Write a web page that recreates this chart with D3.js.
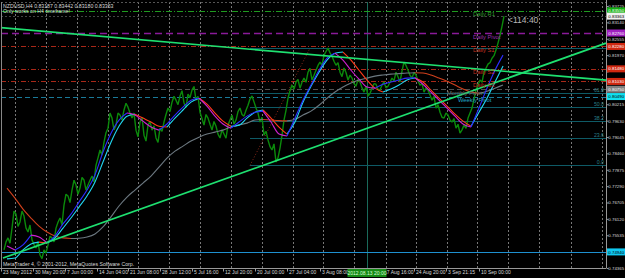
<!DOCTYPE html>
<html><head><meta charset="utf-8">
<script src="https://cdn.jsdelivr.net/npm/d3@7"></script>
<style>html,body{margin:0;padding:0;background:#000;overflow:hidden}svg{display:block}</style>
</head><body><svg id="c" width="625" height="278"></svg>
<script>
// ---------- data ----------
const symbolTitle = "NZDUSD,H4";
const ohlc = [0.83187, 0.83442, 0.83180, 0.83363];
const subTitle = "Only works on H4 timeframe!";
const copyright = "MetaTrader 4, \u00A9 2001-2012, MetaQuotes Software Corp.";
const countdown = "<114:40";

const priceStartBar = 3, priceStep = 2;
const closes = [
0.7501,0.7530,0.7544,0.7525,0.7579,0.7640,0.7629,0.7585,0.7601,0.7640,0.7622,0.7580,0.7565,0.7590,0.7537,0.7520,0.7508,0.7530,0.7483,0.7470,
0.7501,0.7490,0.7519,0.7550,0.7544,0.7530,0.7579,0.7600,0.7615,0.7590,0.7661,0.7700,0.7694,0.7670,0.7715,0.7750,0.7733,0.7700,0.7722,0.7760,
0.7751,0.7715,0.7733,0.7750,0.7765,0.7745,0.7804,0.7830,0.7858,0.7840,0.7886,0.7920,0.7936,0.7990,0.7972,0.7930,0.7947,0.7990,0.7983,0.7965,
0.8001,0.8025,0.8011,0.7990,0.7972,0.7990,0.7929,0.7905,0.7958,0.7975,0.7911,0.7890,0.7947,0.7960,0.7929,0.7945,0.7901,0.7885,0.7936,0.7925,
0.7958,0.7985,0.8008,0.7995,0.8029,0.8050,0.8036,0.8020,0.8051,0.8070,0.8026,0.8010,0.8058,0.8045,0.8072,0.8085,0.8036,0.8050,0.7993,0.7970,
0.7947,0.7985,0.7972,0.7950,0.7929,0.7960,0.7943,0.7915,0.7901,0.7930,0.7915,0.7900,0.7947,0.7965,0.7983,0.7950,0.7965,0.7995,0.8008,0.7985,
0.7979,0.8000,0.8018,0.8040,0.8051,0.8030,0.8008,0.7990,0.7958,0.7975,0.7911,0.7925,0.7894,0.7870,0.7858,0.7880,0.7815,0.7830,0.7865,0.7910,
0.7965,0.8000,0.8043,0.8070,0.8090,0.8075,0.8101,0.8110,0.8079,0.8100,0.8115,0.8100,0.8136,0.8150,0.8108,0.8125,0.8143,0.8160,0.8172,0.8160,
0.8197,0.8210,0.8222,0.8205,0.8193,0.8175,0.8161,0.8170,0.8136,0.8120,0.8151,0.8135,0.8108,0.8125,0.8115,0.8095,0.8086,0.8110,0.8101,0.8080,
0.8065,0.8085,0.8051,0.8060,0.8079,0.8095,0.8093,0.8075,0.8072,0.8090,0.8101,0.8080,0.8086,0.8100,0.8115,0.8105,0.8136,0.8120,0.8101,0.8140,
0.8172,0.8160,0.8143,0.8125,0.8115,0.8135,0.8126,0.8105,0.8090,0.8095,0.8065,0.8080,0.8072,0.8055,0.8036,0.8050,0.8008,0.8020,0.7993,0.7975,
0.7972,0.7990,0.7983,0.7965,0.7958,0.7970,0.7936,0.7950,0.7918,0.7930,0.7947,0.7935,0.7972,0.7990,0.8008,0.8040,0.8072,0.8090,0.8108,0.8100,
0.8136,0.8150,0.8165,0.8170,0.8186,0.8195,0.8215,0.8240,0.8268,0.8300,0.8336];

const maStartBar = 6, maStep = 8;
const maFast = [
0.7515,0.7501,0.7519,0.7554,0.7547,0.7526,0.7551,0.7594,0.7629,0.7672,
0.7715,0.7769,0.7851,0.7918,0.7965,0.7990,0.7983,0.7961,0.7940,0.7929,
0.7951,0.7983,0.8011,0.8036,0.8043,0.8015,0.7979,0.7951,0.7936,0.7958,
0.7979,0.7993,0.7997,0.7958,0.7915,0.7908,0.7972,0.8036,0.8090,0.8143,
0.8186,0.8204,0.8179,0.8143,0.8111,0.8083,0.8079,0.8093,0.8101,0.8108,
0.8115,0.8116,0.8093,0.8065,0.8036,0.8008,0.7979,0.7951,0.7940,0.8008,
0.8079,0.8143,0.8197];
const maMid = [
0.7469,0.7472,0.7501,0.7522,0.7529,0.7526,0.7544,0.7579,0.7615,0.7654,
0.7694,0.7744,0.7815,0.7886,0.7943,0.7979,0.7986,0.7972,0.7958,0.7943,
0.7940,0.7972,0.8001,0.8029,0.8043,0.8022,0.7990,0.7961,0.7943,0.7947,
0.7972,0.7993,0.8001,0.7972,0.7940,0.7915,0.7958,0.8029,0.8086,0.8136,
0.8179,0.8204,0.8208,0.8179,0.8143,0.8108,0.8079,0.8065,0.8076,0.8090,
0.8108,0.8115,0.8101,0.8072,0.8043,0.8015,0.7986,0.7961,0.7943,0.7993,
0.8043,0.8101,0.8158];
const maSlow = [
0.7722,0.7686,0.7647,0.7615,0.7586,0.7565,0.7551,0.7544,0.7542,0.7543,
0.7547,0.7558,0.7583,0.7619,0.7658,0.7690,0.7715,0.7740,0.7765,0.7797,
0.7829,0.7854,0.7872,0.7890,0.7904,0.7915,0.7922,0.7929,0.7940,0.7947,
0.7954,0.7965,0.7967,0.7965,0.7963,0.7962,0.7968,0.7983,0.7997,0.8018,
0.8043,0.8065,0.8083,0.8097,0.8108,0.8115,0.8122,0.8126,0.8129,0.8131,
0.8133,0.8134,0.8133,0.8126,0.8115,0.8104,0.8090,0.8076,0.8065,0.8061,
0.8068,0.8079,0.8090];

const priceTicks = [0.74365,0.74950,0.75535,0.76120,0.76705,0.77290,0.77875,0.78460,0.79045,
  0.79630,0.80215,0.80800,0.81385,0.81970,0.82555,0.83140,0.83725];

const timeLabels = ["23 May 2012","30 May 20:00","7 Jun 00:00","14 Jun 04:00","21 Jun 08:00",
  "28 Jun 12:00","5 Jul 16:00","12 Jul 20:00","20 Jul 00:00","27 Jul 04:00","3 Aug 08:00",
  "17 Aug 16:00","24 Aug 20:00","3 Sep 21:15","10 Sep 00:00"];
const timeLabelBars = [0,32,64,96,127,159,191,222,254,286,319,381,413,445,478];
const gridBars = [14,45,76,107,137,168,199,230,261,292,322,353,385,415,446,476,507,538,570,601];

const levelNames  = ["Daily R1","Daily Pivot","Daily S1","Daily S2","Daily S3","Monthly Pivot","Weekly Pivot"];
const levelValues = [0.8355, 0.8276, 0.8228, 0.8148, 0.8103, 0.8075, 0.8049];
const lowerLevel = 0.7494;

const fibLevels = [0, 23.6, 38.2, 50, 61.8, 100];
const fibLow = 0.7803, fibHigh = 0.8222, fibStartBar = 249, fibEndBar = 309;

const trendDownBars = [0, 605], trendDownValues = [0.8295, 0.8108];
const trendUpBars = [2, 605], trendUpValues = [0.7472, 0.8240];

const vlineBar = 366, vlineLabel = "2012.08.13 20:00";

// ---------- drawing ----------
const svg = d3.select("#c");
const W = 625, H = 278, RX = 606, BY = 268, TY = 2;
svg.append("rect").attr("width", W).attr("height", H).attr("fill", "#000");

const x = d3.scaleLinear().domain([0, 605]).range([1, RX]);
const y = d3.scaleLinear().domain([0.74365, 0.83725]).range([BY, 6]);
const FONT = "Liberation Sans, Arial, sans-serif";
const AXF = 4.4;

const plot = svg.append("g");
// grid
plot.selectAll(".vg").data(gridBars).join("line")
  .attr("x1", d => x(d) + 0.5).attr("x2", d => x(d) + 0.5)
  .attr("y1", TY).attr("y2", BY)
  .attr("stroke", "#777").attr("stroke-width", 1).attr("stroke-dasharray", "2,2");
plot.append("line").attr("x1", 1).attr("x2", RX).attr("y1", TY + 0.5).attr("y2", TY + 0.5)
  .attr("stroke", "#555").attr("stroke-dasharray", "2,2");

// vertical line
plot.append("line").attr("x1", x(vlineBar) + 0.5).attr("x2", x(vlineBar) + 0.5)
  .attr("y1", TY).attr("y2", BY).attr("stroke", "#1a6a5a").attr("stroke-width", 1);

// levels
const levelStyle = {
  "Daily R1":     {c: "#1f9a1f", dash: "6,2,1,2", t: "#2e9a2e", box: "#10b010", bt: "#fff"},
  "Daily Pivot":  {c: "#8a1a9a", dash: "7,4",     t: "#9a30b0", box: "#a020c0", bt: "#fff"},
  "Daily S1":     {c: "#a82818", dash: "5,2,1,2", t: "#c03020", box: "#d02810", bt: "#fff"},
  "Daily S2":     {c: "#a82818", dash: "5,2,1,2", t: "#c03020", box: "#d02810", bt: "#fff"},
  "Daily S3":     {c: "#a82818", dash: "5,2,1,2", t: "#c03020", box: "#d02810", bt: "#fff"},
  "Monthly Pivot":{c: "#505050", dash: "5,3",     t: "#707070", box: "#808080", bt: "#fff"},
  "Weekly Pivot": {c: "#1a7a9a", dash: "5,3",     t: "#20a8c8", box: "#10e0f0", bt: "#000"}
};
levelNames.forEach((n, i) => {
  const s = levelStyle[n], yy = Math.round(y(levelValues[i])) + 0.5;
  plot.append("line").attr("x1", 1).attr("x2", RX).attr("y1", yy).attr("y2", yy)
    .attr("stroke", s.c).attr("stroke-width", n === "Daily Pivot" ? 1.3 : 1).attr("stroke-dasharray", s.dash);
});
plot.append("line").attr("x1", 1).attr("x2", RX)
  .attr("y1", Math.round(y(lowerLevel)) + 0.5).attr("y2", Math.round(y(lowerLevel)) + 0.5)
  .attr("stroke", "#1e90d0").attr("stroke-width", 1.2);
// bid line
plot.append("line").attr("x1", 1).attr("x2", RX)
  .attr("y1", Math.round(y(ohlc[3])) + 0.5).attr("y2", Math.round(y(ohlc[3])) + 0.5)
  .attr("stroke", "#444").attr("stroke-dasharray", "2,2");

// fib
const fibPrice = l => fibLow + (fibHigh - fibLow) * l / 100;
fibLevels.forEach(l => {
  const yy = Math.round(y(fibPrice(l))) + 0.5;
  plot.append("line").attr("x1", x(fibStartBar)).attr("x2", RX).attr("y1", yy).attr("y2", yy)
    .attr("stroke", "#0e5a66").attr("stroke-width", 1);
  if (l < 100) plot.append("text").attr("x", RX - 2).attr("y", yy - 1.5)
    .attr("text-anchor", "end").attr("font-family", FONT).attr("font-size", 5.2)
    .attr("fill", "#2a7f88").text(l.toFixed(1));
});
plot.append("line").attr("x1", x(fibStartBar)).attr("y1", y(fibLow))
  .attr("x2", x(fibEndBar)).attr("y2", y(fibHigh))
  .attr("stroke", "#8b2a1a").attr("stroke-dasharray", "1,2");

// price
const priceLine = d3.line().x((d, i) => x(priceStartBar + i * priceStep)).y(d => y(d));
plot.append("path").attr("d", priceLine(closes)).attr("fill", "none")
  .attr("stroke", "#0b8a0b").attr("stroke-width", 1.4).attr("stroke-linejoin", "bevel");

// slope-coloured moving averages
function drawMA(vals, upC, downC, w) {
  const pts = vals.map((v, i) => [maStartBar + i * maStep, v]);
  const runs = []; let cur = [pts[0]], dir = null;
  for (let i = 1; i < pts.length; i++) {
    const d = pts[i][1] >= pts[i - 1][1] ? "up" : "down";
    if (dir === null) dir = d;
    if (d !== dir) { runs.push({dir, pts: cur}); cur = [pts[i - 1]]; dir = d; }
    cur.push(pts[i]);
  }
  runs.push({dir, pts: cur});
  const ln = d3.line().x(d => x(d[0])).y(d => y(d[1])).curve(d3.curveMonotoneX);
  runs.forEach(r => plot.append("path").attr("d", ln(r.pts)).attr("fill", "none")
    .attr("stroke", r.dir === "up" ? upC : downC).attr("stroke-width", w));
}
drawMA(maSlow, "#6c7880", "#d0401c", 1.1);
drawMA(maMid, "#22d6f0", "#ff3a1a", 1.1);
drawMA(maFast, "#2c2cff", "#d020d0", 1.1);

// trendlines
[[trendDownBars, trendDownValues], [trendUpBars, trendUpValues]].forEach(([b, v]) => {
  plot.append("line").attr("x1", x(b[0])).attr("y1", y(v[0])).attr("x2", x(b[1])).attr("y2", y(v[1]))
    .attr("stroke", "#1ee070").attr("stroke-width", 1.7);
});

// level labels
const labelBar = { "Monthly Pivot": 446, "Weekly Pivot": 457 };
levelNames.forEach((n, i) => {
  const s = levelStyle[n];
  plot.append("text").attr("x", x(labelBar[n] !== undefined ? labelBar[n] : 472))
    .attr("y", y(levelValues[i]) + 5.5).attr("font-family", FONT).attr("font-size", 5.8)
    .attr("fill", s.t).text(n);
});

// texts
svg.append("text").attr("x", 3).attr("y", 7.5).attr("font-family", FONT).attr("font-size", 5.2)
  .attr("fill", "#d8d8d8").text(symbolTitle + "  " + ohlc.map(d => d.toFixed(5)).join(" "));
svg.append("text").attr("x", 3).attr("y", 12.8).attr("font-family", FONT).attr("font-size", 5.2)
  .attr("fill", "#d8e8d8").text(subTitle);
svg.append("text").attr("x", 3).attr("y", 266).attr("font-family", FONT).attr("font-size", 5.2)
  .attr("fill", "#d8d8d8").text(copyright);
svg.append("text").attr("x", x(priceStartBar + (closes.length - 1) * priceStep) + 4).attr("y", 23).attr("font-family", FONT)
  .attr("font-size", 8.5).attr("fill", "#b8b8b8").text(countdown);

// frame
svg.append("line").attr("x1", 1.5).attr("x2", 1.5).attr("y1", TY).attr("y2", BY).attr("stroke", "#888");

// right axis
const boxValues = levelValues.concat([ohlc[3], lowerLevel]);
const ya = svg.append("g").attr("transform", `translate(${RX + 0.5},0)`)
  .call(d3.axisRight(y).tickValues(priceTicks).tickFormat(d3.format(".5f")).tickSize(2).tickSizeOuter(0));
ya.select(".domain").attr("stroke", "#999").attr("d", `M0,0V${BY}`);
ya.selectAll(".tick line").attr("stroke", "#999");
ya.selectAll(".tick text").attr("x", 1.8).attr("fill", "#d8d8d8").attr("font-family", FONT)
  .attr("font-size", AXF)
  .attr("display", d => boxValues.some(b => Math.abs(y(b) - y(d)) < 4.5) ? "none" : null);

// bottom axis
const xa = svg.append("g").attr("transform", `translate(0,${BY + 0.5})`)
  .call(d3.axisBottom(x).tickValues(timeLabelBars).tickFormat((d, i) => timeLabels[i]).tickSize(3).tickSizeOuter(0));
xa.select(".domain").attr("stroke", "#999").attr("d", `M0,0H${RX}`);
xa.selectAll(".tick line").attr("stroke", "#999");
xa.selectAll(".tick text").attr("text-anchor", "start").attr("x", 1.5).attr("y", 2).attr("dy", "0.71em")
  .attr("fill", "#d8d8d8").attr("font-family", FONT).attr("font-size", 5);

// axis marker boxes
function box(val, bg, fg, txt) {
  const yy = y(val);
  svg.append("rect").attr("x", RX + 1).attr("y", yy - 3.5).attr("width", W - RX - 1).attr("height", 7).attr("fill", bg);
  svg.append("text").attr("x", RX + 2.3).attr("y", yy + 1.6).attr("fill", fg).attr("font-family", FONT)
    .attr("font-size", AXF).text(txt);
}
levelNames.forEach((n, i) => box(levelValues[i], levelStyle[n].box, levelStyle[n].bt, levelValues[i].toFixed(5)));
box(ohlc[3], "#f0f0f0", "#000", ohlc[3].toFixed(5));
box(lowerLevel, "#10c8f0", "#000", lowerLevel.toFixed(5));

// vertical line time box
const vx = x(vlineBar);
svg.append("rect").attr("x", vx - 19.5).attr("y", BY + 1).attr("width", 39).attr("height", 8).attr("fill", "#148a14");
svg.append("text").attr("x", vx).attr("y", BY + 7).attr("text-anchor", "middle").attr("fill", "#d8ffd8")
  .attr("font-family", FONT).attr("font-size", 5).text(vlineLabel);
</script></body></html>
